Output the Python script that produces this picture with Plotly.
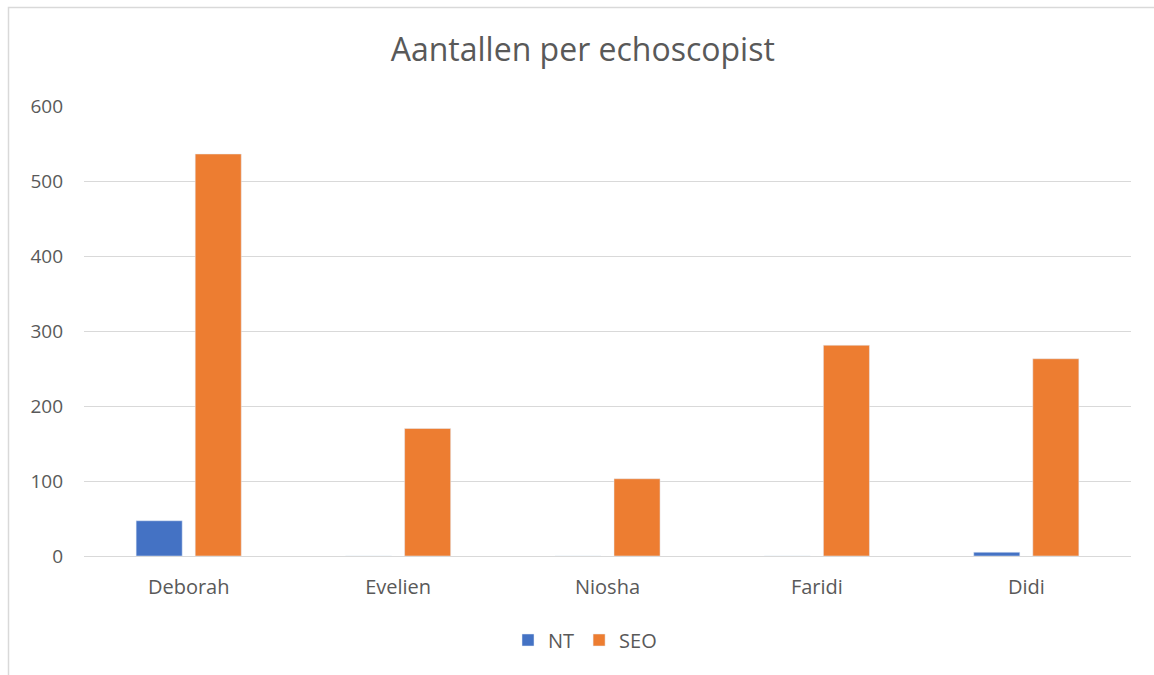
import plotly.graph_objects as go

categories = ["Deborah", "Evelien", "Niosha", "Faridi", "Didi"]
nt_values = [47, 0, 0, 0, 5]
seo_values = [536, 170, 103, 281, 263]
y_ticks = [0, 100, 200, 300, 400, 500, 600]

W, H = 1154, 675
L, R, T, B = 84, 23, 106, 119
pw, ph = W - L - R, H - T - B

def px_x(p):
    return (p - L) / pw

def px_y(p):
    return (H - B - p) / ph

fig = go.Figure()
fig.add_trace(go.Bar(name="NT", x=categories, y=nt_values, marker_color="#4472C4"))
fig.add_trace(go.Bar(name="SEO", x=categories, y=seo_values, marker_color="#ED7D31"))

font_family = "Open Sans, Noto Sans, sans-serif"

fig.update_layout(
    width=W, height=H,
    margin=dict(l=L, r=R, t=T, b=B),
    paper_bgcolor="white", plot_bgcolor="white",
    barmode="group", bargap=0.436, bargroupgap=0.22,
    title=dict(text="Aantallen per echoscopist", x=0.505, xanchor="center",
               y=1 - 50 / H, yanchor="middle",
               font=dict(family=font_family, size=32, color="#595959")),
    font=dict(family=font_family, size=20, color="#595959"),
    xaxis=dict(showgrid=False, showline=False, ticks="", ticklabelstandoff=17,
               tickfont=dict(size=20, color="#595959")),
    yaxis=dict(range=[0, 600], tickvals=y_ticks, showgrid=True, gridcolor="#d9d9d9",
               gridwidth=1, zeroline=True, zerolinecolor="#d9d9d9", zerolinewidth=1,
               showline=False, ticks="", ticklabelstandoff=20,
               tickfont=dict(size=19, color="#595959")),
    legend=dict(orientation="h", x=px_x(585), xanchor="center", y=px_y(640), yanchor="middle",
                font=dict(size=20, color="#595959"), itemwidth=30, traceorder="normal"),
    showlegend=True,
)

fig.add_shape(type="rect", xref="paper", yref="paper",
              x0=px_x(8.5), x1=px_x(1170), y0=px_y(7.5), y1=px_y(700),
              line=dict(color="#d9d9d9", width=1.5), fillcolor="rgba(0,0,0,0)", layer="below")

fig.write_html("out.html", config={"displayModeBar": False},
               post_script="document.body.style.margin='0';document.body.style.overflow='hidden';")
